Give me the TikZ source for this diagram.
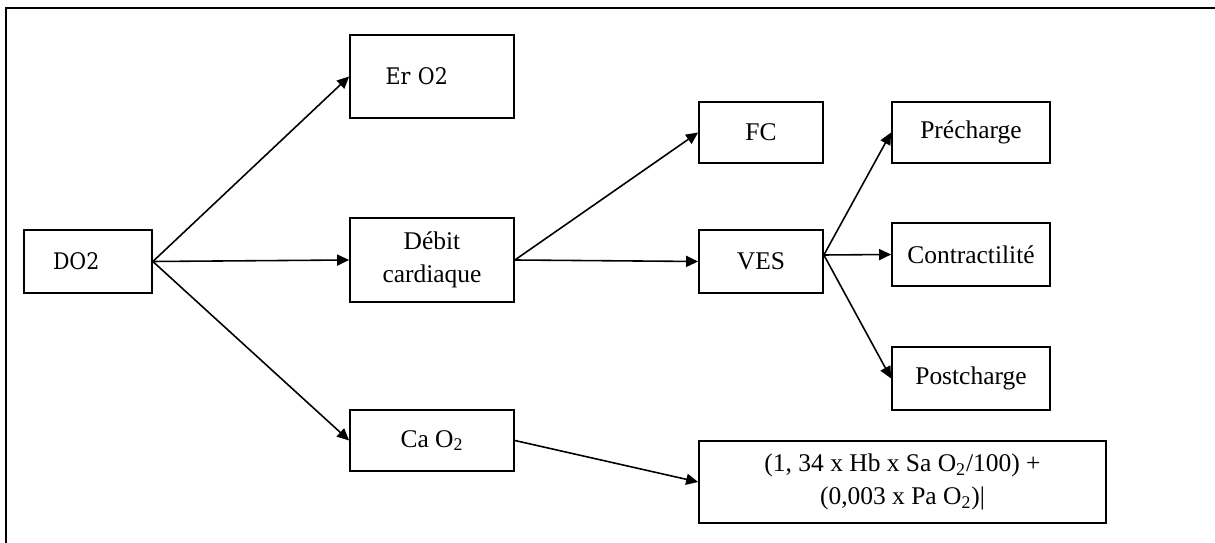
\documentclass[tikz,border=0pt]{standalone}
\usepackage{fontspec}
\newfontfamily\tnr{Liberation Serif}
\newfontfamily\cond{DejaVu Serif Condensed}
\usetikzlibrary{arrows.meta,positioning}

\begin{document}
\begin{tikzpicture}[
  x=0.02cm, y=-0.02cm,
  font=\tnr\fontsize{14.5}{18.5}\selectfont,
  box/.style={draw, line width=1pt, minimum height=1.24cm,
              align=center, inner sep=2pt},
  lbox/.style={box, font=\cond\fontsize{13}{16}\selectfont,
               align=left},
  fleche/.style={-{Triangle[length=0.24cm, width=0.22cm]},
                 line width=0.9pt}
]
\useasboundingbox (0,0) rectangle (1215,543);

%% --- cadre ---
\draw[line width=1.6pt] (1215,8) -- (6,8) -- (6,543);

%% --- colonne 1 et 2 ---
\node[lbox, text width=1.4cm, inner xsep=0.58cm, minimum height=1.26cm]
  (DO2) at (88,261.5) {DO2};
\node[lbox, text width=1.86cm, inner xsep=0.71cm, minimum height=1.66cm]
  (ErO2) at (432,76.5) {Er O2};
\node[box, minimum width=3.28cm, minimum height=1.68cm]
  (debit) at (432,260) {Débit\\cardiaque};
\node[box, minimum width=3.28cm, minimum height=1.22cm]
  (CaO2) at (432,440.5) {Ca O\textsubscript{2}};

%% --- colonne 3 ---
\node[box, minimum width=2.48cm, minimum height=1.22cm]
  (FC) at (761,132.5) {FC};
\node[box, minimum width=2.48cm, minimum height=1.26cm]
  (VES) at (761,261.5) {VES};
\node[box, minimum width=8.14cm, minimum height=1.64cm]
  (formule) at (902.5,482)
  {(1, 34 x Hb x Sa O\textsubscript{2}/100) +\\(0,003 x Pa O\textsubscript{2})|};

%% --- colonne 4 ---
\node[box, minimum width=3.16cm, minimum height=1.22cm]
  (prech) at (971,132.5) {Précharge};
\node[box, minimum width=3.16cm, minimum height=1.26cm]
  (contr) at (971,254.5) {Contractilité};
\node[box, minimum width=3.16cm, minimum height=1.26cm]
  (postch) at (971,378.5) {Postcharge};

%% --- fleches ---
\draw[fleche] (DO2.east) -- (ErO2.west);
\draw[fleche] (DO2.east) -- (debit.west);
\draw[fleche] (DO2.east) -- (CaO2.west);
\draw[fleche] (debit.east) -- (FC.west);
\draw[fleche] (debit.east) -- (VES.west);
\coordinate (vesout) at ([yshift=0.13cm]VES.east);
\draw[fleche] (vesout) -- (prech.west);
\draw[fleche] (vesout) -- (contr.west);
\draw[fleche] (vesout) -- (postch.west);
\draw[fleche] (CaO2.east) -- (formule.west);
\end{tikzpicture}
\end{document}
